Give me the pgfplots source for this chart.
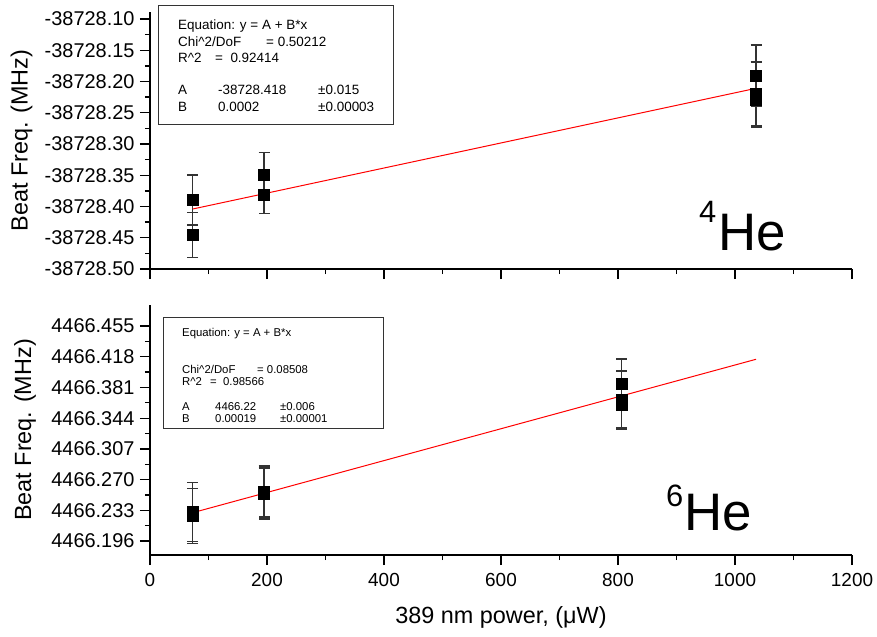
\documentclass[border=0pt]{standalone}
\usepackage{fontspec}
\setmainfont{Liberation Sans}
\usepackage{pgfplots}
\pgfplotsset{compat=1.18}
\pgfplotsset{
  common/.style={
    scale only axis, width=702bp,
    xmin=0, xmax=1200,
    axis x line=bottom, axis y line=left,
    axis line style={line width=1.3bp, -},
    tick align=outside,
    major tick length=10bp, minor tick length=5bp,
    tick style={line width=1.3bp, black},
    xtick={0,200,400,600,800,1000,1200},
    minor x tick num=1, minor y tick num=1,
    xticklabel style={font=\fontsize{19}{22}\selectfont, yshift=-5bp},
    yticklabel style={font=\fontsize{20}{24}\selectfont, xshift=-2bp},
    label style={font=\fontsize{23.5}{27}\selectfont},
    clip=false,
  },
  datapts/.style={only marks, mark=square*, mark size=5.5bp, black,
    error bars/.cd, y dir=both, y explicit,
    error bar style={line width=1.2bp, black!80},
    error mark=-,
    error mark options={rotate=90, line width=1.2bp, mark size=5.5bp, black!80}},
}
\begin{document}
\begin{tikzpicture}
\path[use as bounding box] (0,0) rectangle (877bp,-637bp);
% Top panel: y values stored as (value + 38728) MHz
\begin{axis}[common, at={(150bp,-269bp)}, anchor=south west, height=257bp,
  ymin=-0.5, ymax=-0.0888,
  ytick={-0.50,-0.45,-0.40,-0.35,-0.30,-0.25,-0.20,-0.15,-0.10},
  yticklabels={-38728.50,-38728.45,-38728.40,-38728.35,-38728.30,-38728.25,-38728.20,-38728.15,-38728.10},
  xticklabels={},
  ylabel={Beat Freq. (MHz)},
  ylabel style={at={(axis description cs:-0.183,0.5)}, anchor=center},
]
\addplot[datapts] table[x=x, y=y, y error=e] {
x y e
73 -0.3896 0.0400
73 -0.4456 0.0363
195 -0.3496 0.0357
195 -0.3816 0.0293
1036 -0.1904 0.0488
1036 -0.2200 0.0512
1036 -0.2288 0.0448
};
\addplot[red, line width=1bp] coordinates {(73,-0.4040) (1036,-0.2109)};
\end{axis}
% Bottom panel: y values stored as (value - 4466) MHz
\begin{axis}[common, at={(150bp,-555bp)}, anchor=south west, height=250bp,
  ymin=0.1791, ymax=0.4804,
  ytick={0.196,0.233,0.270,0.307,0.344,0.381,0.418,0.455},
  yticklabels={4466.196,4466.233,4466.270,4466.307,4466.344,4466.381,4466.418,4466.455},
  xticklabels={0,200,400,600,800,1000,1200},
  ylabel={Beat Freq. (MHz)},
  ylabel style={at={(axis description cs:-0.178,0.5)}, anchor=center},
  xlabel={389 nm power, (μW)},
  xlabel style={at={(axis description cs:0.5,-0.248)}, anchor=center},
]
\addplot[datapts] table[x=x, y=y, y error=e] {
x y e
73 0.2310 0.0353
73 0.2261 0.0334
195 0.2557 0.0307
195 0.2532 0.0307
806 0.3856 0.0298
806 0.3659 0.0350
806 0.3599 0.0274
};
\addplot[red, line width=1bp] coordinates {(73,0.2301) (1036,0.4150)};
\end{axis}
\begin{scope}[x=1bp,y=-1bp]
  % top fit box
  \draw[line width=0.9bp, black!80] (158,5) rectangle (393,124);
  \begin{scope}[every node/.style={anchor=base west, inner sep=0pt, font=\fontsize{13.5}{16}\selectfont}]
    \node at (178,29) {Equation: y = A + B*x};
    \node at (178,46) {Chi\textasciicircum 2/DoF};
    \node at (266,46) {= 0.50212};
    \node at (178,62.5) {R\textasciicircum 2};
    \node at (215,62.5) {= \ 0.92414};
    \node at (178,94) {A};
    \node at (218,94) {-38728.418};
    \node at (318,94) {±0.015};
    \node at (178,111) {B};
    \node at (218,111) {0.0002};
    \node at (318,111) {±0.00003};
  \end{scope}
  % bottom fit box
  \draw[line width=0.9bp, black!80] (163,317) rectangle (383,428);
  \begin{scope}[every node/.style={anchor=base west, inner sep=0pt, font=\fontsize{11.4}{14}\selectfont}]
    \node at (182,336) {Equation: y = A + B*x};
    \node at (182,373) {Chi\textasciicircum 2/DoF};
    \node at (257,373) {= 0.08508};
    \node at (182,385) {R\textasciicircum 2};
    \node at (210,385) {= \ 0.98566};
    \node at (182,410) {A};
    \node at (215,410) {4466.22};
    \node at (280,410) {±0.006};
    \node at (182,422) {B};
    \node at (215,422) {0.00019};
    \node at (280,422) {±0.00001};
  \end{scope}
  % isotope labels
  \node[anchor=base west, inner sep=0pt, font=\fontsize{31}{31}\selectfont] at (699,222) {4};
  \node[anchor=base west, inner sep=0pt, font=\fontsize{53}{53}\selectfont] at (718,250) {He};
  \node[anchor=base west, inner sep=0pt, font=\fontsize{31}{31}\selectfont] at (666,506) {6};
  \node[anchor=base west, inner sep=0pt, font=\fontsize{53}{53}\selectfont] at (684,530) {He};
\end{scope}
\end{tikzpicture}
\end{document}
